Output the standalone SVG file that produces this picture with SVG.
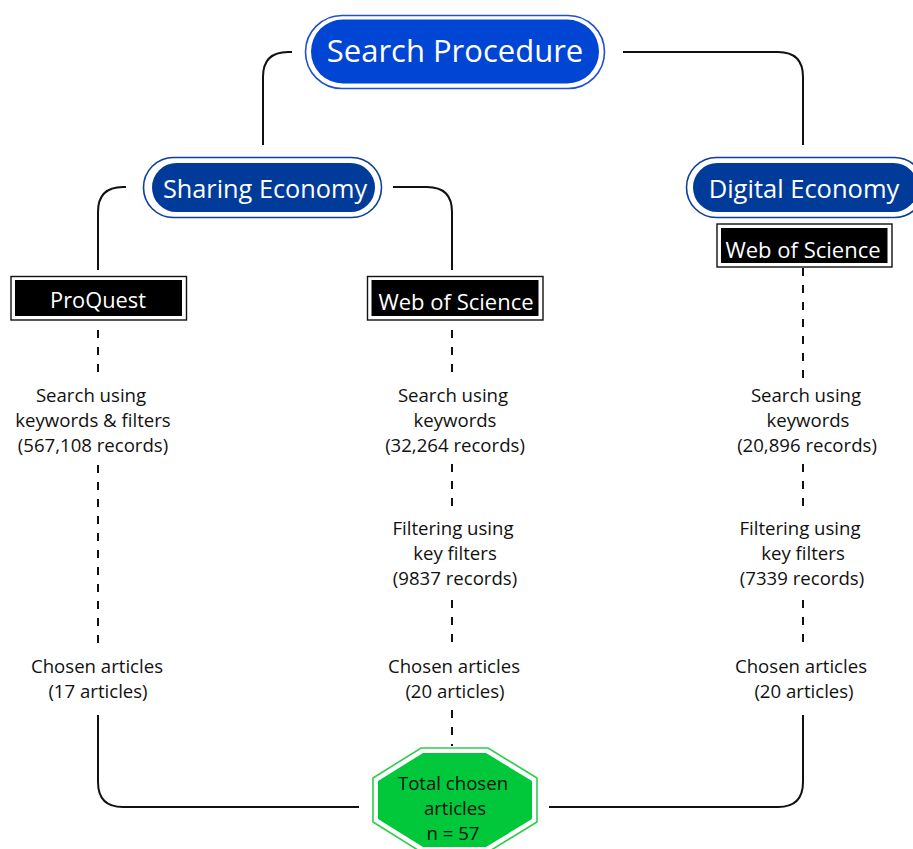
<svg xmlns="http://www.w3.org/2000/svg" width="913" height="849" viewBox="0 0 913 849">
<style>
text{font-family:"Open Sans","Noto Sans",sans-serif;text-anchor:middle}
.body{font-size:18.6px;fill:#111}
.conn{fill:none;stroke:#111;stroke-width:2}
.dash{fill:none;stroke:#111;stroke-width:2;stroke-dasharray:8 9}
.pillout{fill:#fff;stroke-width:1.6}
.boxout{fill:#fff;stroke:#111;stroke-width:1.4}
.boxin{fill:#000}
.wt{fill:#fff}
</style>
<rect width="913" height="849" fill="#fff"/>
<g id="connectors">
<path class="conn" d="M292 52 H288 Q263 52 263 77 V145"/>
<path class="conn" d="M623 52 H778 Q803 52 803 77 V145"/>
<path class="conn" d="M126 187 H123 Q98 187 98 212 V270"/>
<path class="conn" d="M393 187 H427 Q452 187 452 212 V270"/>
<path class="dash" d="M98 330 V378"/>
<path class="dash" d="M98 465 V650"/>
<path class="conn" d="M98 715 V782 Q98 807 123 807 H359"/>
<path class="dash" d="M452 330 V378"/>
<path class="dash" d="M452 464 V512"/>
<path class="dash" d="M452 600 V650"/>
<path class="dash" d="M452 710 V746"/>
<path class="dash" d="M803 268 V378"/>
<path class="dash" d="M803 464 V512"/>
<path class="dash" d="M803 600 V650"/>
<path class="conn" d="M549 807 H778 Q803 807 803 782 V715"/>
</g>
<g id="search-procedure">
<rect class="pillout" x="305.5" y="15.5" width="299" height="73" rx="36.5" stroke="#1f4fd0"/>
<rect x="311" y="19.5" width="288" height="64" rx="32" fill="#0045d4"/>
<text x="455" y="62" class="wt" style="font-size:31px">Search Procedure</text>
</g>
<g id="sharing-economy">
<rect class="pillout" x="143.5" y="157.5" width="238" height="60" rx="30" stroke="#0d3e9c"/>
<rect x="152" y="163" width="223" height="49" rx="24.5" fill="#003b99"/>
<text x="265" y="198" class="wt" style="font-size:25.3px">Sharing Economy</text>
</g>
<g id="digital-economy">
<rect class="pillout" x="686.5" y="157.5" width="238" height="60" rx="30" stroke="#0d3e9c"/>
<rect x="693" y="163" width="225" height="49" rx="24.5" fill="#003b99"/>
<text x="804" y="198" class="wt" style="font-size:25.5px">Digital Economy</text>
</g>
<g id="proquest">
<rect class="boxout" x="11" y="276.5" width="175.5" height="43.5"/>
<rect class="boxin" x="15" y="280" width="167" height="36"/>
<text x="98" y="308" class="wt" style="font-size:21.8px">ProQuest</text>
</g>
<g id="wos-sharing">
<rect class="boxout" x="367.5" y="276.5" width="175.5" height="43.5"/>
<rect class="boxin" x="371.5" y="280" width="167" height="36"/>
<text x="456" y="310" class="wt" style="font-size:22px">Web of Science</text>
</g>
<g id="wos-digital">
<rect class="boxout" x="717" y="224" width="175" height="43"/>
<rect class="boxin" x="721" y="228" width="166.5" height="35"/>
<text x="803" y="258" class="wt" style="font-size:22px">Web of Science</text>
</g>
<g id="proquest-search">
<text class="body" x="91" y="402">Search using</text>
<text class="body" x="93" y="427">keywords &amp; filters</text>
<text class="body" x="93" y="452">(567,108 records)</text>
</g>
<g id="proquest-chosen">
<text class="body" x="97" y="673">Chosen articles</text>
<text class="body" x="98" y="698">(17 articles)</text>
</g>
<g id="wos-sharing-search">
<text class="body" x="453" y="402">Search using</text>
<text class="body" x="455" y="427">keywords</text>
<text class="body" x="455" y="452">(32,264 records)</text>
</g>
<g id="wos-sharing-filter">
<text class="body" x="453" y="535">Filtering using</text>
<text class="body" x="455" y="560">key filters</text>
<text class="body" x="455" y="585">(9837 records)</text>
</g>
<g id="wos-sharing-chosen">
<text class="body" x="454" y="673">Chosen articles</text>
<text class="body" x="455" y="698">(20 articles)</text>
</g>
<g id="wos-digital-search">
<text class="body" x="806" y="402">Search using</text>
<text class="body" x="808" y="427">keywords</text>
<text class="body" x="807" y="452">(20,896 records)</text>
</g>
<g id="wos-digital-filter">
<text class="body" x="800" y="535">Filtering using</text>
<text class="body" x="803" y="560">key filters</text>
<text class="body" x="802" y="585">(7339 records)</text>
</g>
<g id="wos-digital-chosen">
<text class="body" x="801" y="673">Chosen articles</text>
<text class="body" x="804" y="698">(20 articles)</text>
</g>
<g id="total">
<polygon points="421,748 488,748 537,778 537,822 488,852 421,852 373,822 373,778" fill="#fff" stroke="#2ccf4a" stroke-width="1.6"/>
<polygon points="423,753 486,753 532,781 532,819 486,847 423,847 378,819 378,781" fill="#00c83a"/>
<text class="body" x="453" y="790">Total chosen</text>
<text class="body" x="455" y="815">articles</text>
<text class="body" x="453" y="840">n = 57</text>
</g>
</svg>
